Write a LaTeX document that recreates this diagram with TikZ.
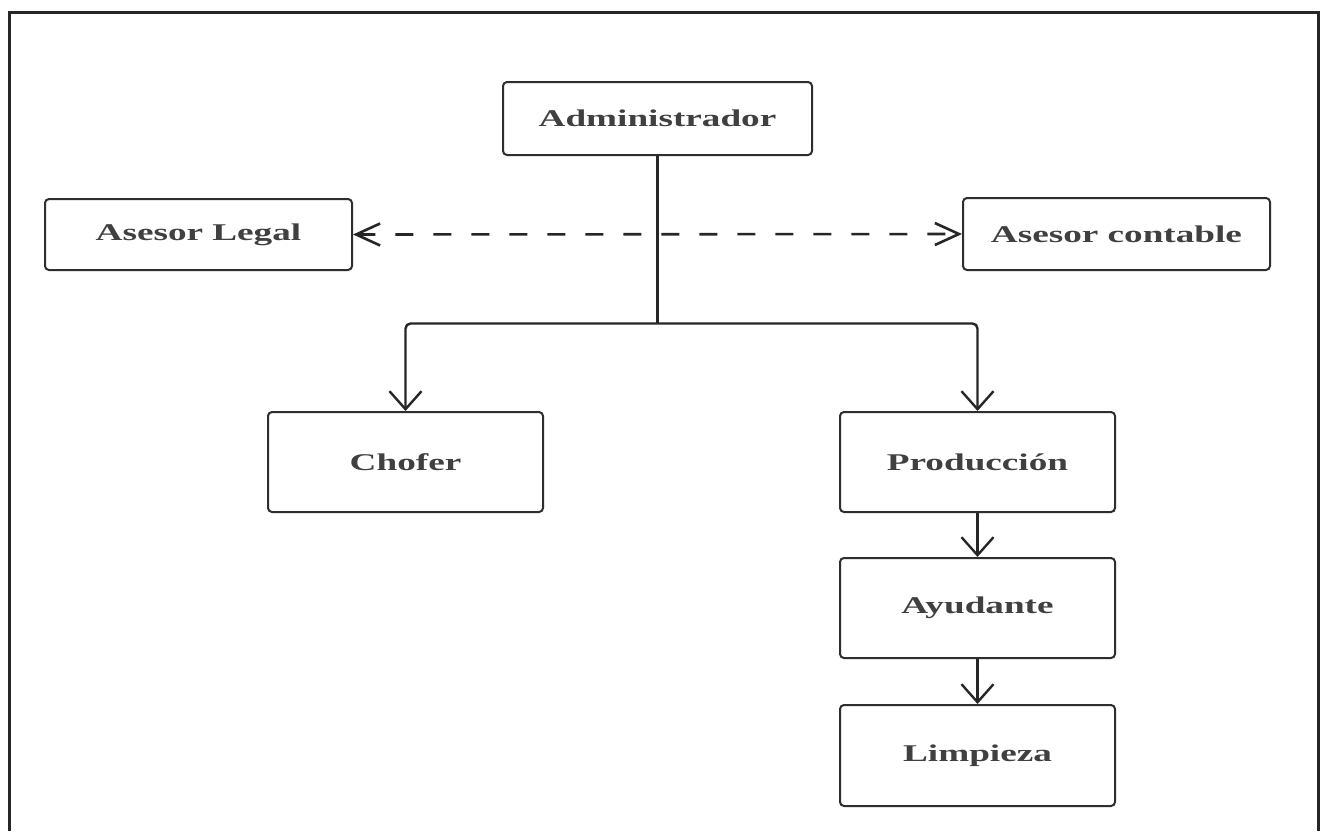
\documentclass[tikz,border=0pt]{standalone}
\usepackage{fontspec}
\newfontfamily\boxfont[FakeStretch=1.55]{Liberation Serif}
\usetikzlibrary{arrows.meta}
\definecolor{linegray}{HTML}{2E2E2E}
\definecolor{textgray}{HTML}{404040}
\tikzset{
  box/.style={draw=linegray, line width=2pt, rounded corners=4pt, fill=white,
    font=\boxfont\bfseries\fontsize{24}{26}\selectfont, text=textgray,
    inner sep=0pt, align=center},
  vtip/.style={-{Straight Barb[length=18pt,width=32pt,line width=2.4pt]}},
  conn/.style={draw=black!85, line width=2.4pt},
  dconn/.style={draw=black!85, line width=2.6pt, dash pattern=on 18pt off 20pt,
    {Straight Barb[length=24pt,width=22pt,line width=2.6pt]}-{Straight Barb[length=24pt,width=22pt,line width=2.6pt]}}
}
\begin{document}
\begin{tikzpicture}[x=1pt,y=-1pt]
\useasboundingbox (0,0) rectangle (1325,831);
\fill[white] (0,0) rectangle (1325,831);
% outer frame
\draw[line width=3pt, draw=black!85] (9,831) -- (9,12) -- (1318,12) -- (1318,831);

\node[box, minimum width=309pt, minimum height=73pt] (adm) at (657.5,118.5) {Administrador};
\node[box, minimum width=307pt, minimum height=71pt] (legal) at (198.5,234.5) {Asesor Legal};
\node[box, minimum width=307pt, minimum height=72pt] (cont) at (1116.5,234) {Asesor contable};
\node[box, minimum width=275pt, minimum height=100pt] (chofer) at (405.5,462) {Chofer};
\node[box, minimum width=275pt, minimum height=100pt] (prod) at (977.5,462) {Producción};
\node[box, minimum width=275pt, minimum height=100pt] (ayud) at (977.5,608) {Ayudante};
\node[box, minimum width=275pt, minimum height=101pt] (limp) at (977.5,755.5) {Limpieza};

\coordinate (junc) at (657.5,323.5);
\draw[conn] (adm.south) -- (junc);
\draw[conn, vtip, rounded corners=5pt] (junc) -| (chofer.north);
\draw[conn, vtip, rounded corners=5pt] (junc) -| (prod.north);
\draw[conn, vtip] (prod.south) -- (ayud.north);
\draw[conn, vtip] (ayud.south) -- (limp.north);
\draw[dconn] (legal.east) -- (cont.west);
\end{tikzpicture}
\end{document}
